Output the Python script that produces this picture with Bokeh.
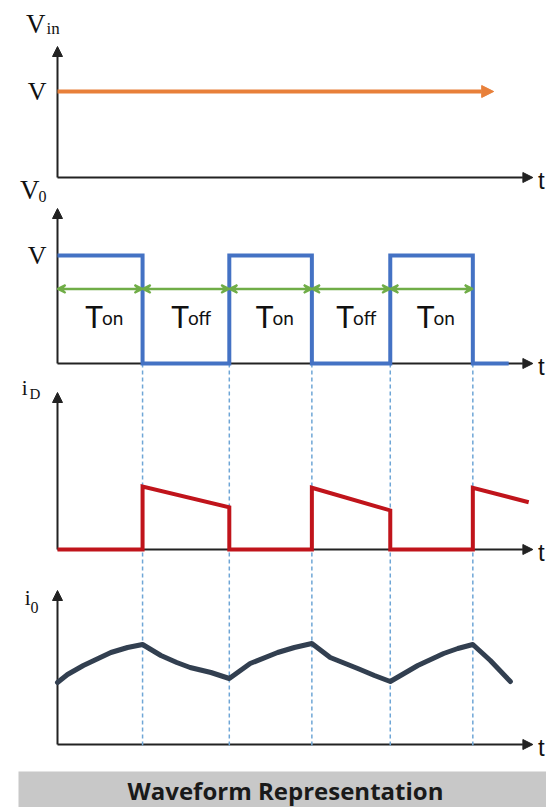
from bokeh.plotting import figure
from bokeh.models import Range1d, Arrow, NormalHead, VeeHead
from bokeh.core.properties import value
from bokeh.embed import file_html
from bokeh.resources import INLINE

# ---------------- data ----------------
# switching instants of the chopper (time units, ~one unit per half period)
switch_t = [1.02, 2.06, 3.05, 3.99, 4.98]
vin_end_t = 5.23          # end of the input-voltage arrow
vo_end_t = 5.41           # last point of the output-voltage trace
axis_end_t = 5.70         # tip of every time axis

vin_level = 1.0           # input voltage V (normalised)
vo_levels = [1.0, 0.0]    # output alternates between V and 0

# diode current i_D
id_t = [0.0, 1.02, 1.02, 2.06, 2.06, 3.05, 3.05, 3.99, 3.99, 4.98, 4.98, 5.65]
id_v = [0.0, 0.0, 1.00, 0.67, 0.0, 0.0, 0.98, 0.62, 0.0, 0.0, 0.98, 0.75]

# load current i_0
io_t = [0.0, 0.12, 0.31, 0.64, 0.84, 1.02, 1.24, 1.43, 1.59, 1.84, 2.06,
        2.31, 2.64, 2.84, 3.05, 3.27, 3.60, 3.80, 3.99, 4.32, 4.63, 4.80,
        4.98, 5.19, 5.43]
io_v = [0.62, 0.70, 0.79, 0.92, 0.97, 1.00, 0.89, 0.82, 0.77, 0.72, 0.66,
        0.81, 0.92, 0.97, 1.01, 0.87, 0.76, 0.69, 0.63, 0.79, 0.91, 0.96,
        1.00, 0.84, 0.63]

interval_names = ["on", "off", "on", "off", "on"]
title_text = "Waveform Representation"

# ---------------- layout ----------------
W, H = 546, 807
T0_PX, PX_PER_T = 57, 83.4
# panel name -> (baseline px from top, px per unit, axis tip px from top)
panels = {
    "vin": (177, 86, 46),
    "vo": (363, 108, 208),
    "id": (549, 63, 392),
    "io": (744, 100, 590),
}

ORANGE = "#e8803a"
BLUE = "#4472c4"
GREEN = "#70ad47"
RED = "#c0141b"
SLATE = "#323f50"
AXIS = "#222222"
DASH = "#6fa6d6"
SERIF = value("Liberation Serif")
SANS = value("Lato")

p = figure(width=W, height=H, output_backend="svg", toolbar_location=None,
           x_range=Range1d(-T0_PX / PX_PER_T, (W - T0_PX) / PX_PER_T),
           y_range=Range1d(H, 0),  # page coordinates, top = 0
           x_axis_type=None, y_axis_type=None, min_border=0)
p.grid.visible = False
p.outline_line_color = None
p.background_fill_color = "white"
p.border_fill_color = "white"
p.extra_x_ranges["page"] = Range1d(0, W)

for name, (base, unit, tip) in panels.items():
    p.extra_y_ranges[name] = Range1d(-(H - base) / unit, base / unit)

# dashed guides at the switching instants, from v_o down to i_0
p.segment(x0=switch_t, x1=switch_t, y0=panels["vo"][0], y1=panels["io"][0] + 3,
          line_color=DASH, line_width=1.5, line_dash="4 3")

# axes with arrow heads, one pair per panel
for name, (base, unit, tip) in panels.items():
    for xe, ye in [(0, (base - tip) / unit), (axis_end_t, 0)]:
        p.add_layout(Arrow(x_start=0, y_start=0, x_end=xe, y_end=ye,
                           line_color=AXIS, line_width=2, level="underlay",
                           end=NormalHead(size=10, fill_color=AXIS, line_color=AXIS),
                           y_range_name=name))
    p.text(x=[axis_end_t], y=[0], text=["t"], text_font=value("Liberation Sans"),
           text_font_size="24px", text_baseline="middle", x_offset=5, y_offset=3,
           text_color="#111", y_range_name=name)

# input voltage
p.add_layout(Arrow(x_start=0, y_start=vin_level, x_end=vin_end_t, y_end=vin_level,
                   line_color=ORANGE, line_width=4,
                   end=NormalHead(size=12, fill_color=ORANGE, line_color=ORANGE),
                   y_range_name="vin"))

# output voltage: square wave built from the switching instants
vo_x, vo_y = [0.0], [vo_levels[0]]
for k, ts in enumerate(switch_t):
    vo_x += [ts, ts]
    vo_y += [vo_levels[k % 2], vo_levels[(k + 1) % 2]]
vo_x.append(vo_end_t)
vo_y.append(vo_levels[len(switch_t) % 2])
p.line(vo_x, vo_y, line_color=BLUE, line_width=4, line_join="miter",
       y_range_name="vo")

# T_on / T_off spans
bounds = [0.0] + switch_t
for k, sub in enumerate(interval_names):
    a, b = bounds[k], bounds[k + 1]
    p.add_layout(Arrow(x_start=a, y_start=0.69, x_end=b, y_end=0.69,
                       line_color=GREEN, line_width=2.5,
                       start=VeeHead(size=8, line_color=GREEN, fill_color=GREEN, line_width=2),
                       end=VeeHead(size=8, line_color=GREEN, fill_color=GREEN, line_width=2),
                       y_range_name="vo"))
    mid = (a + b) / 2
    p.text(x=[mid], y=[0.44], text=["T"], text_font=SANS, text_font_size="30px",
           text_align="right", text_baseline="alphabetic", x_offset=3,
           text_color="#111", y_range_name="vo")
    p.text(x=[mid], y=[0.44], text=[sub], text_font=SANS, text_font_size="19px",
           text_align="left", text_baseline="alphabetic", x_offset=2, y_offset=2,
           text_color="#111", y_range_name="vo")

# diode current and load current
p.line(id_t, id_v, line_color=RED, line_width=4, line_join="miter", y_range_name="id")
p.line(io_t, io_v, line_color=SLATE, line_width=5, line_join="round",
       line_cap="round", y_range_name="io")

# level labels
for name in ["vin", "vo"]:
    p.text(x=[0], y=[1.0], text=["V"], text_font=SERIF, text_font_size="26px",
           text_align="right", text_baseline="middle", x_offset=-11,
           text_color="#111", y_range_name=name)

# axis names with subscripts: (panel, main, sub, main dx, main dy, sub dx, sub dy, sizes)
axis_names = [
    ("vin", "V", "in", -12, -23, -11, -18, "27px", "17px"),
    ("vo", "V", "0", -18, -19, -19, -12, "27px", "16px"),
    ("id", "i", "D", -30, -5, -28, 1, "21px", "15px"),
    ("io", "i", "0", -27, 7, -27, 17, "21px", "16px"),
]
for name, main, sub, mdx, mdy, sdx, sdy, msz, ssz in axis_names:
    base, unit, tip = panels[name]
    ytip = (base - tip) / unit
    p.text(x=[0], y=[ytip], text=[main], text_font=SERIF, text_font_size=msz,
           text_align="right", text_baseline="alphabetic", x_offset=mdx, y_offset=mdy,
           text_color="#111", y_range_name=name)
    p.text(x=[0], y=[ytip], text=[sub], text_font=SERIF, text_font_size=ssz,
           text_align="left", text_baseline="alphabetic", x_offset=sdx, y_offset=sdy,
           text_color="#111", y_range_name=name)

# caption banner
p.quad(left=[18], right=[W], top=[771], bottom=[H], fill_color="#c8c8c8",
       line_color=None, x_range_name="page")
p.text(x=[285], y=[790], text=[title_text], text_font=value("Open Sans"),
       text_font_style="bold", text_font_size="24px", text_align="center",
       text_baseline="middle", text_color="#1a1a1a", x_range_name="page")

open("out.html", "w").write(file_html(p, INLINE))
